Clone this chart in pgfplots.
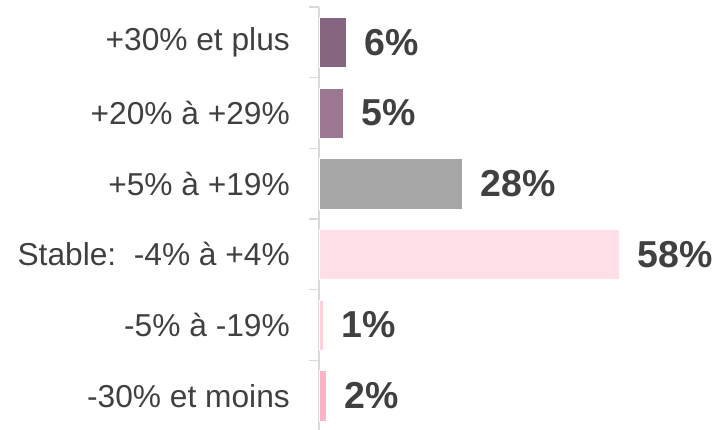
\documentclass[border=0pt]{standalone}
\usepackage{pgfplots}
\pgfplotsset{compat=1.18}
\usepackage{fontspec}
\setmainfont{Liberation Sans}
\definecolor{txt}{HTML}{404040}
\definecolor{axgray}{HTML}{D9D9D9}
\definecolor{cA}{HTML}{85657F}
\definecolor{cB}{HTML}{9C7791}
\definecolor{cC}{HTML}{A6A6A6}
\definecolor{cD}{HTML}{FFE0E6}
\definecolor{cE}{HTML}{FFD0DA}
\definecolor{cF}{HTML}{FFB3C6}
\begin{document}
\begin{tikzpicture}
\path[use as bounding box] (0,0) rectangle (718bp,430bp);
\begin{axis}[
  at={(319bp,-1bp)}, anchor=south west,
  scale only axis, width=388bp, height=424bp,
  xmin=0, xmax=75,
  ymin=-0.5, ymax=5.5, y dir=reverse,
  axis x line=none,
  axis y line*=left,
  y axis line style={axgray, line width=1.5bp, -},
  ytick={0,1,2,3,4,5},
  yticklabels={{+30\% et plus},{+20\% à +29\%},{+5\% à +19\%},{Stable:\ \ -4\% à +4\%},{-5\% à -19\%},{-30\% et moins}},
  minor ytick={-0.5,0.5,1.5,2.5,3.5,4.5,5.5},
  major tick length=0pt,
  minor tick length=10bp,
  tick align=outside,
  every minor tick/.style={axgray, line width=1.5bp},
  yticklabel style={font=\fontsize{31.7bp}{38bp}\selectfont, text=txt, inner sep=0pt, anchor=east, xshift=-29bp},
  xbar, bar width=0.71, bar shift=0pt,
  point meta=explicit symbolic,
  nodes near coords,
  every node near coord/.append style={font=\bfseries\fontsize{37.5bp}{45bp}\selectfont, text=txt, anchor=west, inner sep=0pt, xshift=18bp},
  clip=false,
]
\addplot[fill=cA, draw=white, line width=0.5bp] coordinates {(5.2,0) [6\%]};
\addplot[fill=cB, draw=white, line width=0.5bp] coordinates {(4.7,1) [5\%]};
\addplot[fill=cC, draw=white, line width=0.5bp] coordinates {(27.7,2) [28\%]};
\addplot[fill=cD, draw=white, line width=0.5bp] coordinates {(58,3) [58\%]};
\addplot[fill=cE, draw=white, line width=0.5bp] coordinates {(0.9,4) [1\%]};
\addplot[fill=cF, draw=white, line width=0.5bp] coordinates {(1.4,5) [2\%]};
\end{axis}
\end{tikzpicture}
\end{document}
